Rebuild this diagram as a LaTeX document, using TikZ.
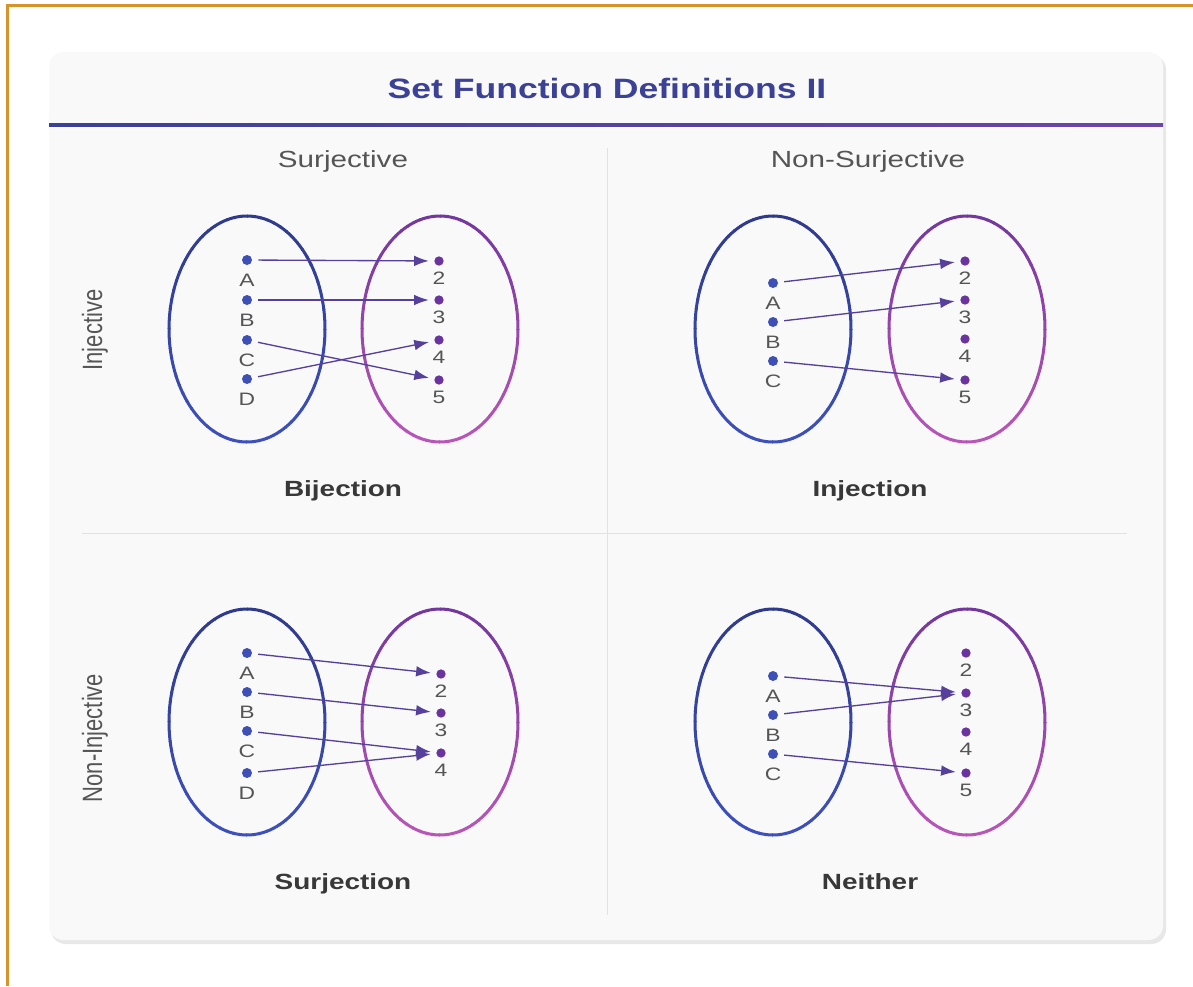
\documentclass[tikz,border=0pt]{standalone}
\usepackage[dvipsnames,svgnames]{xcolor}
\usepackage{tikz}
\usepackage{fontspec}
\setmainfont{Liberation Sans}[FakeStretch=1.27]
\newfontfamily\rowfont{Liberation Sans}
\usetikzlibrary{
  calc,
  positioning,
  arrows.meta,
  shapes.geometric,
  backgrounds,
  fadings
}
\definecolor{framegold}{HTML}{D8932B}
\definecolor{cardbg}{HTML}{F9F9F9}
\definecolor{titleblue}{HTML}{3A4196}
\definecolor{headpurple}{HTML}{6E45A8}
\definecolor{headgray}{HTML}{555555}
\definecolor{namegray}{HTML}{383838}
\definecolor{rulegray}{HTML}{E2E2E2}
\definecolor{navytop}{HTML}{2F3A8C}
\definecolor{bluebot}{HTML}{3D50BC}
\definecolor{purptop}{HTML}{73379E}
\definecolor{magbot}{HTML}{BA55B8}
\definecolor{dotblue}{HTML}{3E4FB8}
\definecolor{dotpurple}{HTML}{6B33A0}
\definecolor{mappurple}{HTML}{56409C}

% oval of a set: centre x, top colour, bottom colour
\newcommand{\setoval}[3]{%
  \foreach \a in {0,5,...,355}{
    \pgfmathsetmacro\mixpct{50*(1+sin(\a+2.5))}
    \draw[line width=2.25pt,color=#3!\mixpct!#2] (#1,0) ++(\a:78 and 113)
      arc[start angle=\a,end angle=\a+5.6,x radius=78,y radius=113];
  }}

\begin{document}
\begin{tikzpicture}[x=0.75pt,y=-0.75pt,> =Latex]
  \tikzset{
    ldot/.style={circle,fill=dotblue,inner sep=0pt,minimum size=7.5pt},
    rdot/.style={circle,fill=dotpurple,inner sep=0pt,minimum size=7pt},
    lettr/.style={inner sep=0pt,label distance=6.2pt,font=\fontsize{13.5}{14}\selectfont,text=headgray},
    digit/.style={inner sep=0pt,label distance=4.2pt,font=\fontsize{13.5}{14}\selectfont,text=headgray},
    maparrow/.style={draw=mappurple,line width=1pt,
      -{Latex[length=11pt,width=8pt]},shorten <=4.5pt,shorten >=4pt},
    kindname/.style={anchor=base,font=\bfseries\fontsize{16.5}{18}\selectfont,text=namegray},
    colhead/.style={anchor=base,font=\fontsize{17.5}{19}\selectfont,text=headgray},
    rowhead/.style={rotate=90,font=\rowfont\fontsize{16.5}{18}\selectfont,text=headgray},
  }
  \useasboundingbox (0,0) rectangle (1193,986);
  \draw[framegold,line width=2.25pt] (1193,5) -- (7,5) -- (7,986);

  % card
  \fill[black,opacity=0.09,rounded corners=11pt] (51,55) rectangle (1166,944);
  \fill[cardbg,rounded corners=11pt] (49,52) rectangle (1163,940);
  \shade[left color=titleblue,right color=headpurple] (49,123.5) rectangle (1163,126.5);
  \node[font=\bfseries\fontsize{21}{24}\selectfont,text=titleblue] (title) at (607,88)
    {Set Function Definitions II};

  \coordinate (vtop) at (607,148);
  \coordinate (vbot) at (607,915);
  \coordinate (hleft) at (82,533);
  \coordinate (hright) at (1127,533);
  \draw[rulegray,line width=0.75pt] (vtop) -- (vbot);
  \draw[rulegray,line width=0.75pt] (hleft) -- (hright);

  \node[colhead] (surj) at (343,167) {Surjective};
  \node[colhead] (nsurj) at (868,167) {Non-Surjective};
  \node[rowhead] (inj) at (95,330) {\scalebox{1}[1.27]{Injective}};
  \node[rowhead] (ninj) at (95,738) {\scalebox{1}[1.27]{Non-Injective}};

  % bijection
  \begin{scope}[shift={(247,329)}]
    \setoval{0}{navytop}{bluebot}
    \setoval{193}{purptop}{magbot}
    \node[ldot,label={[lettr]below:A}] (bA) at (0,-69) {};
    \node[ldot,label={[lettr]below:B}] (bB) at (0,-29) {};
    \node[ldot,label={[lettr]below:C}] (bC) at (0,11) {};
    \node[ldot,label={[lettr]below:D}] (bD) at (0,50) {};
    \node[rdot,label={[digit]below:2}] (b2) at (192,-68) {};
    \node[rdot,label={[digit]below:3}] (b3) at (192,-29) {};
    \node[rdot,label={[digit]below:4}] (b4) at (192,11) {};
    \node[rdot,label={[digit]below:5}] (b5) at (192,51) {};
    \draw[maparrow] (bA) -- (b2);
    \draw[maparrow] (bB) -- (b3);
    \draw[maparrow] (bC) -- (b5);
    \draw[maparrow] (bD) -- (b4);
    \node[kindname] (bij) at (96,167) {Bijection};
  \end{scope}

  % injection
  \begin{scope}[shift={(773,329)}]
    \setoval{0}{navytop}{bluebot}
    \setoval{194}{purptop}{magbot}
    \node[ldot,label={[lettr]below:A}] (iA) at (0,-46) {};
    \node[ldot,label={[lettr]below:B}] (iB) at (0,-7) {};
    \node[ldot,label={[lettr]below:C}] (iC) at (0,32) {};
    \node[rdot,label={[digit]below:2}] (i2) at (192,-68) {};
    \node[rdot,label={[digit]below:3}] (i3) at (192,-29) {};
    \node[rdot,label={[digit]below:4}] (i4) at (192,10) {};
    \node[rdot,label={[digit]below:5}] (i5) at (192,51) {};
    \draw[maparrow] (iA) -- (i2);
    \draw[maparrow] (iB) -- (i3);
    \draw[maparrow] (iC) -- (i5);
    \node[kindname] (inject) at (97,167) {Injection};
  \end{scope}

  % surjection
  \begin{scope}[shift={(247,722)}]
    \setoval{0}{navytop}{bluebot}
    \setoval{193}{purptop}{magbot}
    \node[ldot,label={[lettr]below:A}] (sA) at (0,-69) {};
    \node[ldot,label={[lettr]below:B}] (sB) at (0,-30) {};
    \node[ldot,label={[lettr]below:C}] (sC) at (0,9) {};
    \node[ldot,label={[lettr]below:D}] (sD) at (0,51) {};
    \node[rdot,label={[digit]below:2}] (s2) at (194,-48) {};
    \node[rdot,label={[digit]below:3}] (s3) at (194,-9) {};
    \node[rdot,label={[digit]below:4}] (s4) at (194,31) {};
    \draw[maparrow] (sA) -- (s2);
    \draw[maparrow] (sB) -- (s3);
    \draw[maparrow] (sC) -- (s4);
    \draw[maparrow] (sD) -- (s4);
    \node[kindname] (surject) at (96,167) {Surjection};
  \end{scope}

  % neither
  \begin{scope}[shift={(773,722)}]
    \setoval{0}{navytop}{bluebot}
    \setoval{194}{purptop}{magbot}
    \node[ldot,label={[lettr]below:A}] (nA) at (0,-46) {};
    \node[ldot,label={[lettr]below:B}] (nB) at (0,-7) {};
    \node[ldot,label={[lettr]below:C}] (nC) at (0,32) {};
    \node[rdot,label={[digit]below:2}] (n2) at (193,-69) {};
    \node[rdot,label={[digit]below:3}] (n3) at (193,-29) {};
    \node[rdot,label={[digit]below:4}] (n4) at (193,10) {};
    \node[rdot,label={[digit]below:5}] (n5) at (193,51) {};
    \draw[maparrow] (nA) -- (n3);
    \draw[maparrow] (nB) -- (n3);
    \draw[maparrow] (nC) -- (n5);
    \node[kindname] (neither) at (97,167) {Neither};
  \end{scope}
\end{tikzpicture}
\end{document}
